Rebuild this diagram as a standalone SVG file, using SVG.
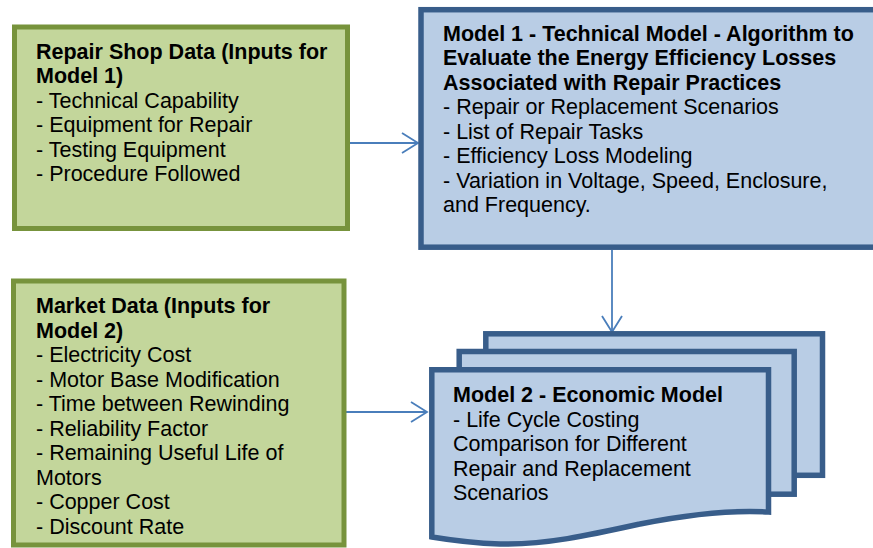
<svg xmlns="http://www.w3.org/2000/svg" width="873" height="548" viewBox="0 0 873 548">
  <style>
    .green { fill: #C3D69B; stroke: #77933C; stroke-width: 5; }
    .blue { fill: #B9CDE5; stroke: #385D8A; stroke-width: 5.5; stroke-linejoin: miter; }
    .txt { font-family: "Liberation Sans", Arial, sans-serif; font-size: 21.5px; fill: #000; }
    .b { font-weight: bold; }
    .conn { stroke: #4A7EBB; stroke-width: 1.8; fill: none; }
  </style>
  <defs>
    <marker id="open" markerUnits="userSpaceOnUse" markerWidth="22" markerHeight="24" refX="17" refY="11" orient="auto" viewBox="0 0 22 24">
      <path d="M1,1 L17,11 L1,21" fill="none" stroke="#4A7EBB" stroke-width="1.8"/>
    </marker>
  </defs>
  <rect width="873" height="548" fill="#fff"/>

  <g id="connectors">
    <line class="conn" x1="343" y1="143" x2="418" y2="143" marker-end="url(#open)"/>
    <line class="conn" x1="612" y1="250" x2="612" y2="332" marker-end="url(#open)"/>
    <line class="conn" x1="343" y1="412" x2="427" y2="412" marker-end="url(#open)"/>
  </g>

  <g id="repair-shop-data">
    <rect class="green" x="14.5" y="27" width="333" height="201.5"/>
    <text class="txt" x="36">
      <tspan class="b" x="36" y="58.5">Repair Shop Data (Inputs for</tspan>
      <tspan class="b" x="36" y="83">Model 1)</tspan>
      <tspan x="36" y="107.5">- Technical Capability</tspan>
      <tspan x="36" y="132">- Equipment for Repair</tspan>
      <tspan x="36" y="156.5">- Testing Equipment</tspan>
      <tspan x="36" y="181">- Procedure Followed</tspan>
    </text>
  </g>

  <g id="model1">
    <rect class="blue" x="421" y="9.7" width="470" height="237.5"/>
    <text class="txt">
      <tspan class="b" x="443" y="40.5">Model 1 - Technical Model - Algorithm to</tspan>
      <tspan class="b" x="443" y="65">Evaluate the Energy Efficiency Losses</tspan>
      <tspan class="b" x="443" y="89.5">Associated with Repair Practices</tspan>
      <tspan x="443" y="114">- Repair or Replacement Scenarios</tspan>
      <tspan x="443" y="138.5">- List of Repair Tasks</tspan>
      <tspan x="443" y="163">- Efficiency Loss Modeling</tspan>
      <tspan x="443" y="187.5">- Variation in Voltage, Speed, Enclosure,</tspan>
      <tspan x="443" y="212">and Frequency.</tspan>
    </text>
  </g>

  <g id="market-data">
    <rect class="green" x="13.5" y="281" width="330.5" height="264"/>
    <text class="txt">
      <tspan class="b" x="36" y="313.3">Market Data (Inputs for</tspan>
      <tspan class="b" x="36" y="337.8">Model 2)</tspan>
      <tspan x="36" y="362.3">- Electricity Cost</tspan>
      <tspan x="36" y="386.8">- Motor Base Modification</tspan>
      <tspan x="36" y="411.3">- Time between Rewinding</tspan>
      <tspan x="36" y="435.8">- Reliability Factor</tspan>
      <tspan x="36" y="460.3">- Remaining Useful Life of</tspan>
      <tspan x="36" y="484.8">Motors</tspan>
      <tspan x="36" y="509.3">- Copper Cost</tspan>
      <tspan x="36" y="533.8">- Discount Rate</tspan>
    </text>
  </g>

  <g id="model2">
    <rect class="blue" x="485.8" y="333.8" width="336.7" height="141.5" stroke-width="5"/>
    <rect class="blue" x="459.2" y="351.5" width="335" height="142.7" stroke-width="5"/>
    <path class="blue" stroke-width="5" d="M431.8,369.8 L768.5,369.8 L768.5,512 C735,510 690,514 640,524 C590,535 545,545 500,544 C470,543 450,540 431.8,537 Z"/>
    <text class="txt">
      <tspan class="b" x="453" y="402.3">Model 2 - Economic Model</tspan>
      <tspan x="453" y="426.8">- Life Cycle Costing</tspan>
      <tspan x="453" y="451.3">Comparison for Different</tspan>
      <tspan x="453" y="475.8">Repair and Replacement</tspan>
      <tspan x="453" y="500.3">Scenarios</tspan>
    </text>
  </g>
</svg>
